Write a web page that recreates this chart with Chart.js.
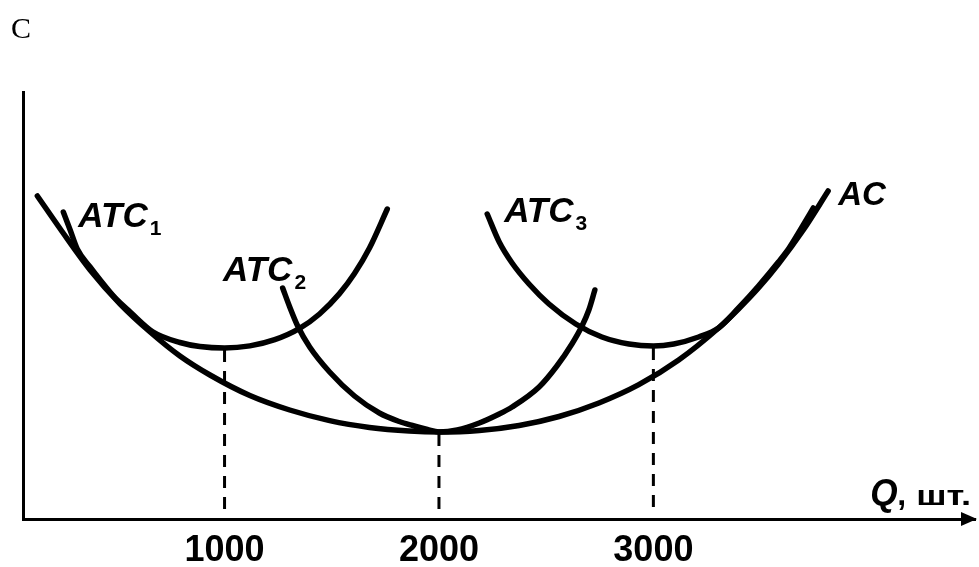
<!DOCTYPE html>
<html>
<head>
<meta charset="utf-8">
<script src="https://cdn.jsdelivr.net/npm/chart.js@4.4.0/dist/chart.umd.min.js"></script>
<style>
  html, body { margin: 0; padding: 0; background: #fff; }
  #wrap { width: 979px; height: 567px; }
</style>
</head>
<body>
<div id="wrap"><canvas id="costChart"></canvas></div>
<script>
// long-run average cost (envelope)
const acQ = [127, 234, 373, 513, 653, 792, 932, 1118, 1304, 1490, 1676, 1862, 2000, 2188, 2374, 2560, 2746, 2932, 3118, 3304, 3397, 3490, 3583, 3699, 3815];
const acC = [32.3, 29.0, 24.9, 21.5, 18.7, 16.3, 14.4, 12.35, 10.9, 9.84, 9.16, 8.8, 8.7, 8.85, 9.35, 10.25, 11.6, 13.43, 15.9, 19.1, 21.0, 23.1, 25.5, 28.9, 32.8];

// short-run average total cost, plant 1
const atc1Q = [248, 280, 313, 373, 420, 490, 560, 667, 792, 885, 1000, 1118, 1234, 1350, 1443, 1536, 1606, 1676, 1759];
const atc1C = [30.7, 28.9, 27.0, 25.2, 23.9, 22.1, 20.7, 18.7, 17.65, 17.25, 17.1, 17.31, 17.93, 19.06, 20.5, 22.54, 24.55, 27.1, 31.0];

// plant 2
const atc2Q = [1271, 1304, 1341, 1397, 1490, 1606, 1722, 1815, 1876, 1946, 2000, 2085, 2188, 2281, 2341, 2467, 2550, 2620, 2667, 2699, 2727];
const atc2C = [23.1, 21.2, 19.3, 17.2, 14.7, 12.3, 10.6, 9.75, 9.35, 8.95, 8.7, 8.9, 9.6, 10.5, 11.2, 13.2, 15.3, 17.5, 19.3, 20.9, 22.9];

// plant 3
const atc3Q = [2225, 2281, 2341, 2420, 2513, 2638, 2760, 2886, 3000, 3095, 3211, 3304, 3397, 3490, 3583, 3633, 3699, 3746];
const atc3C = [30.5, 27.7, 25.6, 23.5, 21.5, 19.5, 18.2, 17.5, 17.3, 17.5, 18.2, 19.1, 21.1, 23.3, 25.7, 27.1, 29.4, 31.1];

const tickValues = [1000, 2000, 3000];
const tickLabels = ['1000', '2000', '3000'];

const curveNames = ['ATC', 'ATC', 'ATC', 'AC'];
const curveSubs = ['1', '2', '3', ''];

const toPoints = (qs, cs) => qs.map((q, i) => ({ x: q, y: cs[i] }));

// where each curve name sits (left end of text, baseline), in axis units
const labelSpots = [
  { q: 318, c: 29.2 },
  { q: 993, c: 23.8 },
  { q: 2304, c: 29.7 },
  { q: 3862, c: 31.4 }
];

const mins = [Math.min(...atc1C), Math.min(...atc2C), Math.min(...atc3C)];

const solid = (pts) => ({
  data: pts,
  borderColor: '#000',
  borderWidth: 5.5,
  borderCapStyle: 'round',
  pointRadius: 0,
  cubicInterpolationMode: 'monotone',
  fill: false
});

const dashed = (q, top) => ({
  data: [{ x: q, y: top - 0.2 }, { x: q, y: 0.8 }],
  borderColor: '#000',
  borderWidth: 3,
  borderDash: [12, 9],
  pointRadius: 0,
  fill: false
});

const curveLabels = {
  id: 'curveLabels',
  afterDatasetsDraw(chart) {
    const { ctx, chartArea, scales: { x, y } } = chart;
    ctx.save();
    ctx.fillStyle = '#000';
    ctx.textBaseline = 'alphabetic';
    ctx.textAlign = 'left';
    labelSpots.forEach((s, i) => {
      ctx.save();
      ctx.translate(x.getPixelForValue(s.q), y.getPixelForValue(s.c));
      ctx.font = curveSubs[i] ? 'italic bold 35px "Liberation Sans"' : 'italic bold 33px "Liberation Sans"';
      ctx.fillText(curveNames[i], 0, 0);
      const w = ctx.measureText(curveNames[i]).width;
      ctx.font = 'bold 21px "Liberation Sans"';
      ctx.fillText(curveSubs[i], w + 2, 8);
      ctx.restore();
    });

    // quantity label above the end of the axis
    ctx.save();
    ctx.translate(x.getPixelForValue(4011), y.getPixelForValue(1.4));
    ctx.save();
    ctx.scale(0.95, 1);
    ctx.font = 'italic bold 37px "Liberation Sans"';
    ctx.fillText('Q', 0, 0);
    ctx.restore();
    ctx.font = 'bold 32px "Liberation Sans"';
    ctx.fillText(',', 27, 0);
    ctx.save();
    ctx.translate(46, 0);
    ctx.scale(1.3, 1);
    ctx.font = 'bold 28px "Liberation Sans"';
    ctx.fillText('шт.', 0, 0);
    ctx.restore();
    ctx.restore();

    // arrow head on the Q axis
    const ax = chartArea.right + 2, ay = chartArea.bottom;
    ctx.beginPath();
    ctx.moveTo(ax, ay);
    ctx.lineTo(ax - 16, ay - 7);
    ctx.lineTo(ax - 16, ay + 7);
    ctx.closePath();
    ctx.fill();
    ctx.restore();
  }
};

new Chart(document.getElementById('costChart'), {
  type: 'line',
  data: {
    datasets: [
      dashed(tickValues[0], mins[0]),
      dashed(tickValues[1], mins[1]),
      dashed(tickValues[2], mins[2]),
      solid(toPoints(acQ, acC)),
      solid(toPoints(atc1Q, atc1C)),
      solid(toPoints(atc2Q, atc2C)),
      solid(toPoints(atc3Q, atc3C))
    ]
  },
  options: {
    responsive: true,
    maintainAspectRatio: false,
    animation: false,
    layout: { padding: { left: 11, right: 4, top: 0, bottom: 0 } },
    plugins: {
      legend: { display: false },
      tooltip: { enabled: false },
      title: {
        display: true,
        text: 'C',
        align: 'start',
        color: '#000',
        font: { family: '"Liberation Serif"', size: 30, weight: 'normal' },
        padding: { top: 12, bottom: 44 }
      }
    },
    scales: {
      x: {
        type: 'linear',
        min: 60,
        max: 4500,
        grid: { display: false, drawTicks: false },
        border: { display: true, color: '#000', width: 3 },
        afterBuildTicks: (scale) => { scale.ticks = tickValues.map(v => ({ value: v })); },
        afterFit: (scale) => { scale.height = 48; },
        ticks: {
          color: '#000',
          padding: 10,
          autoSkip: false,
          maxRotation: 0,
          font: { family: '"Liberation Sans"', size: 36, weight: 'bold' },
          callback: (v, i) => tickLabels[i]
        }
      },
      y: {
        min: 0,
        max: 42.7,
        grid: { display: false, drawTicks: false },
        border: { display: true, color: '#000', width: 3 },
        ticks: { display: false },
        afterFit: (scale) => { scale.width = 12; }
      }
    }
  },
  plugins: [curveLabels]
});
</script>
</body>
</html>
